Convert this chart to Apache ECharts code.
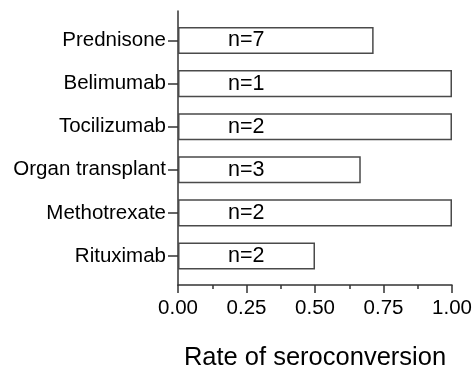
<!DOCTYPE html>
<html>
<head>
<meta charset="utf-8">
<script src="https://cdn.jsdelivr.net/npm/echarts@6/dist/echarts.min.js"></script>
<style>html,body{margin:0;padding:0;background:#fff;}#c{width:474px;height:369px;}</style>
</head>
<body>
<div id="c"></div>
<script>
const categories = ['Prednisone', 'Belimumab', 'Tocilizumab', 'Organ transplant', 'Methotrexate', 'Rituximab'];
const rates = [0.714, 1.0, 1.0, 0.667, 1.0, 0.5];
const counts = [7, 1, 2, 3, 2, 2];
const xTicks = [0, 0.25, 0.5, 0.75, 1];
const xTitle = 'Rate of seroconversion';

const FONT = 'Liberation Sans, Arial, sans-serif';
const chart = echarts.init(document.getElementById('c'));
chart.setOption({
  animation: false,
  backgroundColor: '#fff',
  grid: [
    {left: 178, right: 22, top: 19, bottom: 91.5, outerBoundsMode: 'none', containLabel: false},
    {left: 178, right: 22, top: 11, bottom: 84, outerBoundsMode: 'none', containLabel: false}
  ],
  xAxis: [
    {gridIndex: 0, type: 'value', min: 0, max: 1, show: false},
    {gridIndex: 1, type: 'value', min: xTicks[0], max: xTicks[xTicks.length - 1], interval: 0.25,
     axisLine: {show: true, lineStyle: {color: '#333', width: 1.5}},
     axisTick: {show: true, length: 8, lineStyle: {color: '#333', width: 1.5}},
     minorTick: {show: true, splitNumber: 2, length: 4, lineStyle: {color: '#333', width: 1.5}},
     splitLine: {show: false},
     axisLabel: {margin: 13, fontSize: 20.5, fontFamily: FONT, color: '#000', formatter: v => v.toFixed(2)},
     name: xTitle, nameLocation: 'middle', nameGap: 60,
     nameTextStyle: {fontSize: 25.5, fontFamily: FONT, color: '#000'}}
  ],
  yAxis: [
    {gridIndex: 0, type: 'category', data: categories, inverse: true,
     axisLine: {show: false},
     axisTick: {show: true, alignWithLabel: true, length: 10, lineStyle: {color: '#333', width: 1.5}},
     axisLabel: {margin: 12, fontSize: 20.5, fontFamily: FONT, color: '#000'}},
    {gridIndex: 1, type: 'value', min: 0, max: 1,
     axisLine: {show: true, lineStyle: {color: '#333', width: 1.5}},
     axisTick: {show: false}, axisLabel: {show: false}, splitLine: {show: false}}
  ],
  series: [{
    type: 'bar', xAxisIndex: 0, yAxisIndex: 0,
    data: rates.map((r, i) => ({value: r, n: counts[i]})),
    barCategoryGap: '37%',
    itemStyle: {color: '#fff', borderColor: '#4a4a4a', borderWidth: 1.5},
    label: {show: true, position: [50, '50%'], align: 'left', verticalAlign: 'middle',
      fontSize: 21.5, fontFamily: FONT, color: '#000',
      formatter: p => 'n=' + counts[p.dataIndex]}
  }]
});
</script>
</body>
</html>
